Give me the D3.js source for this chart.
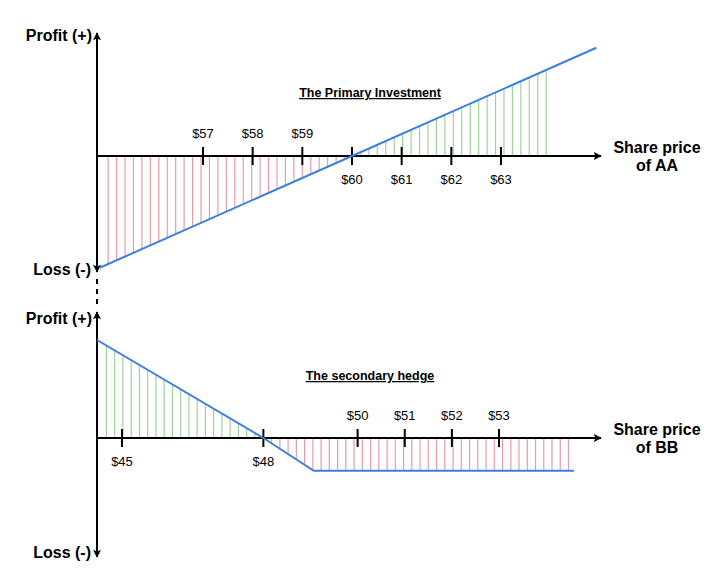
<!DOCTYPE html>
<html><head><meta charset="utf-8">
<script src="https://cdn.jsdelivr.net/npm/d3@7"></script>
<style>body{margin:0;background:#fff}</style>
</head><body><svg id="c" width="728" height="588"></svg>
<script>
// ---- data ----
const aaTicks = [57, 58, 59, 60, 61, 62, 63];
const aaTicksBelow = [60, 61, 62, 63];
const aaPrice = [54.92, 60, 64.92];
const aaProfit = [-5.08, 0, 4.92];
const aaGainEnd = 64.03;
const aaTitle = "The Primary Investment";

const bbTicks = [45, 48, 50, 51, 52, 53];
const bbTicksBelow = [45, 48];
const bbPrice = [44.47, 48, 49.07, 54.59];
const bbProfit = [3.5, 0, -1.17, -1.17];
const bbLossEnd = 54.55;
const bbTitle = "The secondary hedge";

const font = "'Liberation Sans', Arial, sans-serif";
const RED = "#ee9aa6", GREEN = "#9fd39a", BLUE = "#3c7fdd";

const svg = d3.select("#c");
const defs = svg.append("defs");
defs.append("marker").attr("id", "arr").attr("viewBox", "0 0 10 10")
  .attr("refX", 9).attr("refY", 5).attr("markerWidth", 8).attr("markerHeight", 8)
  .attr("markerUnits", "userSpaceOnUse").attr("orient", "auto-start-reverse")
  .append("path").attr("d", "M0,0 L10,5 L0,10 L2,5 Z").attr("fill", "#000");

function panel(cfg) {
  const g = svg.append("g");
  const x = cfg.x, y = cfg.y;
  const f = d3.scaleLinear().domain(cfg.price).range(cfg.profit);
  const y0 = y(0);
  // hatching
  g.selectAll("line.up").data(cfg.upRange()).join("line")
    .attr("x1", d => x(d)).attr("x2", d => x(d))
    .attr("y1", y0).attr("y2", d => y(f(d)))
    .attr("stroke", GREEN).attr("stroke-width", 1.2);
  g.selectAll("line.dn").data(cfg.downRange()).join("line")
    .attr("x1", d => x(d)).attr("x2", d => x(d))
    .attr("y1", y0).attr("y2", d => y(f(d)))
    .attr("stroke", RED).attr("stroke-width", 1.2);
  // y axis
  g.append("line").attr("x1", cfg.axX).attr("x2", cfg.axX)
    .attr("y1", cfg.yAxBottom).attr("y2", cfg.yAxTop)
    .attr("stroke", "#000").attr("stroke-width", 2)
    .attr("marker-start", "url(#arr)").attr("marker-end", "url(#arr)");
  // x axis
  g.append("line").attr("x1", cfg.axX).attr("x2", cfg.xAxEnd)
    .attr("y1", y0).attr("y2", y0)
    .attr("stroke", "#000").attr("stroke-width", 2)
    .attr("marker-end", "url(#arr)");
  // ticks
  g.selectAll("line.tk").data(cfg.ticks).join("line")
    .attr("x1", d => x(d)).attr("x2", d => x(d))
    .attr("y1", y0 - 9).attr("y2", y0 + 9)
    .attr("stroke", "#000").attr("stroke-width", 2);
  g.selectAll("text.tl").data(cfg.ticks).join("text")
    .attr("x", d => x(d))
    .attr("y", d => cfg.below.includes(d) ? y0 + 28 : y0 - 18)
    .attr("text-anchor", "middle").attr("font-family", font).attr("font-size", 13)
    .text(d => "$" + d);
  // payoff line
  g.append("path").datum(cfg.price.map((p, i) => [p, cfg.profit[i]]))
    .attr("d", d3.line().x(d => x(d[0])).y(d => y(d[1])))
    .attr("fill", "none").attr("stroke", BLUE).attr("stroke-width", 2);
  // labels
  g.append("text").attr("x", 92).attr("y", cfg.profitY).attr("text-anchor", "end")
    .attr("font-family", font).attr("font-size", 16).attr("font-weight", "bold").text("Profit (+)");
  g.append("text").attr("x", 91).attr("y", cfg.lossY).attr("text-anchor", "end")
    .attr("font-family", font).attr("font-size", 16).attr("font-weight", "bold").text("Loss (-)");
  const sp = g.append("text").attr("x", 657).attr("y", y0 - 3).attr("text-anchor", "middle")
    .attr("font-family", font).attr("font-size", 16).attr("font-weight", "bold");
  sp.append("tspan").attr("x", 657).text("Share price");
  sp.append("tspan").attr("x", 657).attr("dy", 18).text(cfg.axisName);
  g.append("text").attr("x", 370).attr("y", cfg.titleY).attr("text-anchor", "middle")
    .attr("font-family", font).attr("font-size", 12.5).attr("font-weight", "bold")
    .attr("text-decoration", "underline").text(cfg.title);
}

// top panel
const xTop = d3.scaleLinear().domain([57, 63]).range([203, 501]);
const yTop = d3.scaleLinear().domain([0, 5]).range([156, 46]);
panel({
  x: xTop, y: yTop, price: aaPrice, profit: aaProfit,
  ticks: aaTicks, below: aaTicksBelow, axX: 97, xAxEnd: 601,
  yAxTop: 33, yAxBottom: 272, profitY: 41, lossY: 275, titleY: 97,
  axisName: "of AA", title: aaTitle,
  upRange: () => d3.range(60 + 0.17, aaGainEnd + 1e-6, 0.17),
  downRange: () => d3.range(aaPrice[0] + 0.17, 60 - 1e-6, 0.17)
});

// bottom panel
const xBot = d3.scaleLinear().domain([45, 53]).range([122, 499]);
const yBot = d3.scaleLinear().domain([0, 3.5]).range([438, 340]);
panel({
  x: xBot, y: yBot, price: bbPrice, profit: bbProfit,
  ticks: bbTicks, below: bbTicksBelow, axX: 97, xAxEnd: 601,
  yAxTop: 312, yAxBottom: 557, profitY: 324, lossY: 558, titleY: 380,
  axisName: "of BB", title: bbTitle,
  upRange: () => d3.range(bbPrice[0] + 0.2, 48 - 1e-6, 0.175),
  downRange: () => d3.range(48 + 0.175, bbLossEnd + 1e-6, 0.175)
});

// dashed connector between the two panels
svg.append("line").attr("x1", 97).attr("x2", 97).attr("y1", 279).attr("y2", 306)
  .attr("stroke", "#000").attr("stroke-width", 2).attr("stroke-dasharray", "5,5");
</script>
</body></html>
